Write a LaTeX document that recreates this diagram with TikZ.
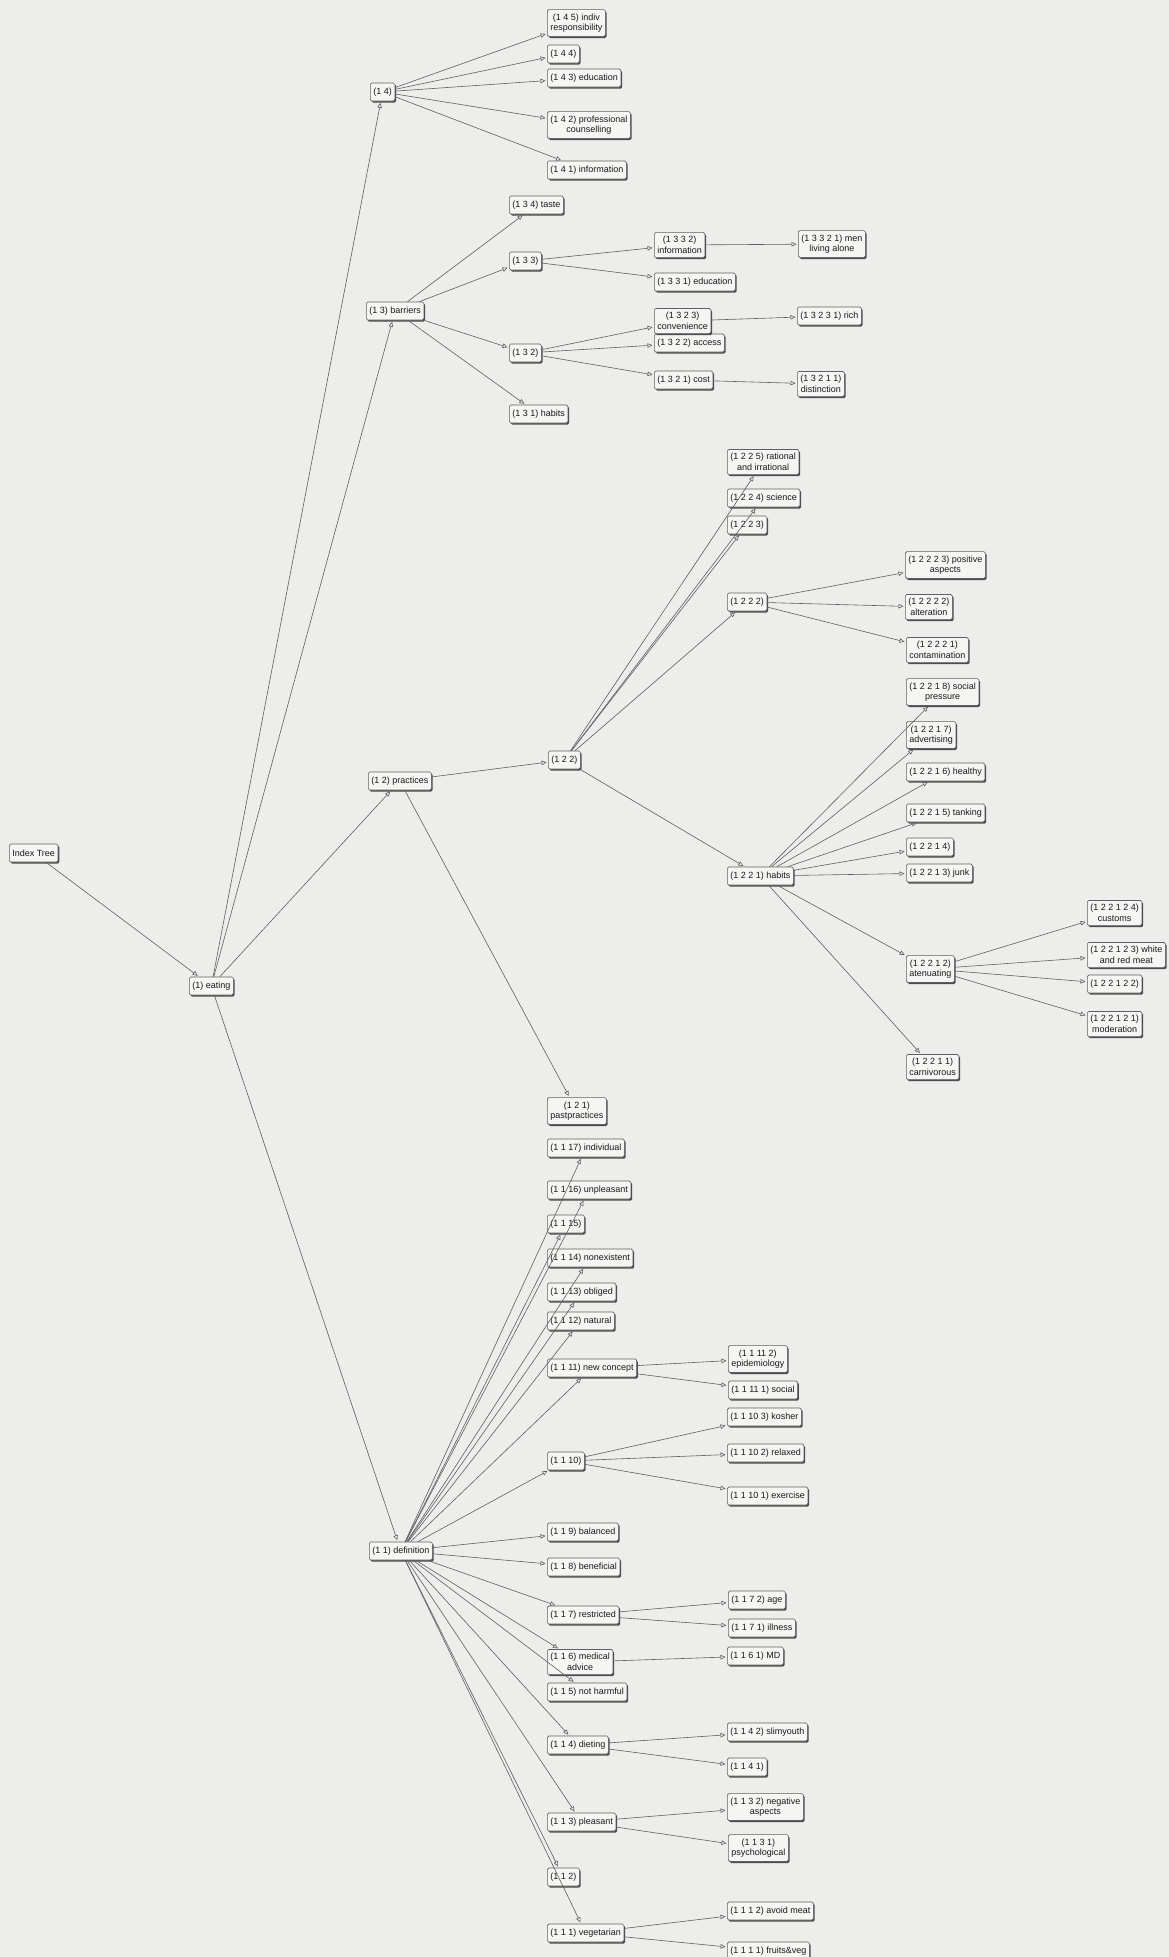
\documentclass[tikz,border=0pt]{standalone}
\usepackage{fontspec}
\setmainfont{Liberation Sans}
\usetikzlibrary{arrows.meta,shadows}
\definecolor{bgc}{RGB}{237,237,235}
\definecolor{boxc}{RGB}{245,245,243}
\definecolor{linec}{RGB}{95,95,95}
\tikzset{
  box/.style={draw=linec, line width=0.6pt, fill=boxc, rounded corners=1.5pt,
    anchor=west, align=center, inner xsep=3pt, inner ysep=4pt, minimum height=18pt,
    font=\fontsize{9}{10.5}\selectfont, text=black!90,
    drop shadow={shadow xshift=1.3pt, shadow yshift=-1.6pt, fill=black!70, opacity=1}},
  conn/.style={draw=linec, line width=0.6pt, shorten >=1.5pt,
    -{Triangle[open,length=5pt,width=4.5pt]}}
}
\begin{document}
\begin{tikzpicture}[x=1pt,y=-1pt]
\fill[bgc] (0,0) rectangle (1169,1957);
\useasboundingbox (0,0) rectangle (1169,1957);
% level 0-1
\node[box] (idx) at (9,853) {Index Tree};
\node[box] (eat) at (189,986) {(1) eating};
% (1 4)
\node[box] (n1-4) at (370,92) {(1 4)};
\node[box] (n1-4-5) at (547,23) {(1 4 5) indiv\\responsibility};
\node[box] (n1-4-4) at (547,54) {(1 4 4)};
\node[box] (n1-4-3) at (547,78) {(1 4 3) education};
\node[box] (n1-4-2) at (547,125) {(1 4 2) professional\\counselling};
\node[box] (n1-4-1) at (547,170) {(1 4 1) information};
% (1 3)
\node[box] (n1-3) at (366,311) {(1 3) barriers};
\node[box] (n1-3-4) at (509,205) {(1 3 4) taste};
\node[box] (n1-3-3) at (509,261) {(1 3 3)};
\node[box] (n1-3-3-2) at (654,245) {(1 3 3 2)\\information};
\node[box] (n1-3-3-2-1) at (798,244) {(1 3 3 2 1) men\\living alone};
\node[box] (n1-3-3-1) at (654,282) {(1 3 3 1) education};
\node[box] (n1-3-2) at (509,353) {(1 3 2)};
\node[box] (n1-3-2-2) at (654,343) {(1 3 2 2) access};
\node[box] (n1-3-2-3) at (654,321) {(1 3 2 3)\\convenience};
\node[box] (n1-3-2-3-1) at (797,316) {(1 3 2 3 1) rich};
\node[box] (n1-3-2-1) at (654,380) {(1 3 2 1) cost};
\node[box] (n1-3-2-1-1) at (797,384) {(1 3 2 1 1)\\distinction};
\node[box] (n1-3-1) at (509,414) {(1 3 1) habits};
% (1 2)
\node[box] (n1-2) at (368,781) {(1 2) practices};
\node[box] (n1-2-2) at (548,760) {(1 2 2)};
\node[box] (n1-2-2-5) at (727,462) {(1 2 2 5) rational\\and irrational};
\node[box] (n1-2-2-4) at (727,498) {(1 2 2 4) science};
\node[box] (n1-2-2-3) at (727,525) {(1 2 2 3)};
\node[box] (n1-2-2-2) at (727,602) {(1 2 2 2)};
\node[box] (n1-2-2-2-3) at (905,565) {(1 2 2 2 3) positive\\aspects};
\node[box] (n1-2-2-2-2) at (905,607) {(1 2 2 2 2)\\alteration};
\node[box] (n1-2-2-2-1) at (906,650) {(1 2 2 2 1)\\contamination};
\node[box] (n1-2-2-1) at (727,876) {(1 2 2 1) habits};
\node[box] (n1-2-2-1-8) at (906,692) {(1 2 2 1 8) social\\pressure};
\node[box] (n1-2-2-1-7) at (906,735) {(1 2 2 1 7)\\advertising};
\node[box] (n1-2-2-1-6) at (906,772) {(1 2 2 1 6) healthy};
\node[box] (n1-2-2-1-5) at (906,813) {(1 2 2 1 5) tanking};
\node[box] (n1-2-2-1-4) at (906,847) {(1 2 2 1 4)};
\node[box] (n1-2-2-1-3) at (906,873) {(1 2 2 1 3) junk};
\node[box] (n1-2-2-1-2) at (906,969) {(1 2 2 1 2)\\atenuating};
\node[box] (n1-2-2-1-1) at (906,1067) {(1 2 2 1 1)\\carnivorous};
\node[box] (n1-2-2-1-2-4) at (1087,913) {(1 2 2 1 2 4)\\customs};
\node[box] (n1-2-2-1-2-3) at (1087,955) {(1 2 2 1 2 3) white\\and red meat};
\node[box] (n1-2-2-1-2-2) at (1087,984) {(1 2 2 1 2 2)};
\node[box] (n1-2-2-1-2-1) at (1087,1024) {(1 2 2 1 2 1)\\moderation};
\node[box] (n1-2-1) at (547,1111) {(1 2 1)\\pastpractices};
% (1 1)
\node[box] (n1-1) at (369,1551) {(1 1) definition};
\node[box] (n1-1-17) at (547,1148) {(1 1 17) individual};
\node[box] (n1-1-16) at (547,1190) {(1 1 16) unpleasant};
\node[box] (n1-1-15) at (547,1224) {(1 1 15)};
\node[box] (n1-1-14) at (547,1258) {(1 1 14) nonexistent};
\node[box] (n1-1-13) at (547,1292) {(1 1 13) obliged};
\node[box] (n1-1-12) at (547,1321) {(1 1 12) natural};
\node[box] (n1-1-11) at (547,1368) {(1 1 11) new concept};
\node[box] (n1-1-11-2) at (728,1359) {(1 1 11 2)\\epidemiology};
\node[box] (n1-1-11-1) at (728,1390) {(1 1 11 1) social};
\node[box] (n1-1-10) at (547,1461) {(1 1 10)};
\node[box] (n1-1-10-3) at (727,1417) {(1 1 10 3) kosher};
\node[box] (n1-1-10-2) at (727,1453) {(1 1 10 2) relaxed};
\node[box] (n1-1-10-1) at (727,1496) {(1 1 10 1) exercise};
\node[box] (n1-1-9) at (547,1532) {(1 1 9) balanced};
\node[box] (n1-1-8) at (547,1567) {(1 1 8) beneficial};
\node[box] (n1-1-7) at (547,1615) {(1 1 7) restricted};
\node[box] (n1-1-7-2) at (728,1600) {(1 1 7 2) age};
\node[box] (n1-1-7-1) at (728,1628) {(1 1 7 1) illness};
\node[box] (n1-1-6) at (547,1662) {(1 1 6) medical\\advice};
\node[box] (n1-1-6-1) at (727,1656) {(1 1 6 1) MD};
\node[box] (n1-1-5) at (547,1692) {(1 1 5) not harmful};
\node[box] (n1-1-4) at (547,1745) {(1 1 4) dieting};
\node[box] (n1-1-4-2) at (727,1732) {(1 1 4 2) slimyouth};
\node[box] (n1-1-4-1) at (727,1767) {(1 1 4 1)};
\node[box] (n1-1-3) at (547,1822) {(1 1 3) pleasant};
\node[box] (n1-1-3-2) at (727,1807) {(1 1 3 2) negative\\aspects};
\node[box] (n1-1-3-1) at (728,1848) {(1 1 3 1)\\psychological};
\node[box] (n1-1-2) at (547,1877) {(1 1 2)};
\node[box] (n1-1-1) at (547,1933) {(1 1 1) vegetarian};
\node[box] (n1-1-1-2) at (727,1911) {(1 1 1 2) avoid meat};
\node[box] (n1-1-1-1) at (727,1951) {(1 1 1 1) fruits\&veg};
% connectors
\foreach \a/\b in {idx/eat, eat/n1-4, eat/n1-3, eat/n1-2, eat/n1-1,
  n1-4/n1-4-5, n1-4/n1-4-4, n1-4/n1-4-3, n1-4/n1-4-2, n1-4/n1-4-1,
  n1-3/n1-3-4, n1-3/n1-3-3, n1-3/n1-3-2, n1-3/n1-3-1,
  n1-3-3/n1-3-3-2, n1-3-3/n1-3-3-1, n1-3-3-2/n1-3-3-2-1,
  n1-3-2/n1-3-2-3, n1-3-2/n1-3-2-2, n1-3-2/n1-3-2-1,
  n1-3-2-3/n1-3-2-3-1, n1-3-2-1/n1-3-2-1-1,
  n1-2/n1-2-2, n1-2/n1-2-1,
  n1-2-2/n1-2-2-5, n1-2-2/n1-2-2-4, n1-2-2/n1-2-2-3, n1-2-2/n1-2-2-2, n1-2-2/n1-2-2-1,
  n1-2-2-2/n1-2-2-2-3, n1-2-2-2/n1-2-2-2-2, n1-2-2-2/n1-2-2-2-1,
  n1-2-2-1/n1-2-2-1-8, n1-2-2-1/n1-2-2-1-7, n1-2-2-1/n1-2-2-1-6, n1-2-2-1/n1-2-2-1-5,
  n1-2-2-1/n1-2-2-1-4, n1-2-2-1/n1-2-2-1-3, n1-2-2-1/n1-2-2-1-2, n1-2-2-1/n1-2-2-1-1,
  n1-2-2-1-2/n1-2-2-1-2-4, n1-2-2-1-2/n1-2-2-1-2-3, n1-2-2-1-2/n1-2-2-1-2-2, n1-2-2-1-2/n1-2-2-1-2-1,
  n1-1/n1-1-17, n1-1/n1-1-16, n1-1/n1-1-15, n1-1/n1-1-14, n1-1/n1-1-13, n1-1/n1-1-12,
  n1-1/n1-1-11, n1-1/n1-1-10, n1-1/n1-1-9, n1-1/n1-1-8, n1-1/n1-1-7, n1-1/n1-1-6,
  n1-1/n1-1-5, n1-1/n1-1-4, n1-1/n1-1-3, n1-1/n1-1-2, n1-1/n1-1-1,
  n1-1-11/n1-1-11-2, n1-1-11/n1-1-11-1,
  n1-1-10/n1-1-10-3, n1-1-10/n1-1-10-2, n1-1-10/n1-1-10-1,
  n1-1-7/n1-1-7-2, n1-1-7/n1-1-7-1, n1-1-6/n1-1-6-1,
  n1-1-4/n1-1-4-2, n1-1-4/n1-1-4-1, n1-1-3/n1-1-3-2, n1-1-3/n1-1-3-1,
  n1-1-1/n1-1-1-2, n1-1-1/n1-1-1-1}
  \draw[conn] (\a) -- (\b);
\end{tikzpicture}
\end{document}
